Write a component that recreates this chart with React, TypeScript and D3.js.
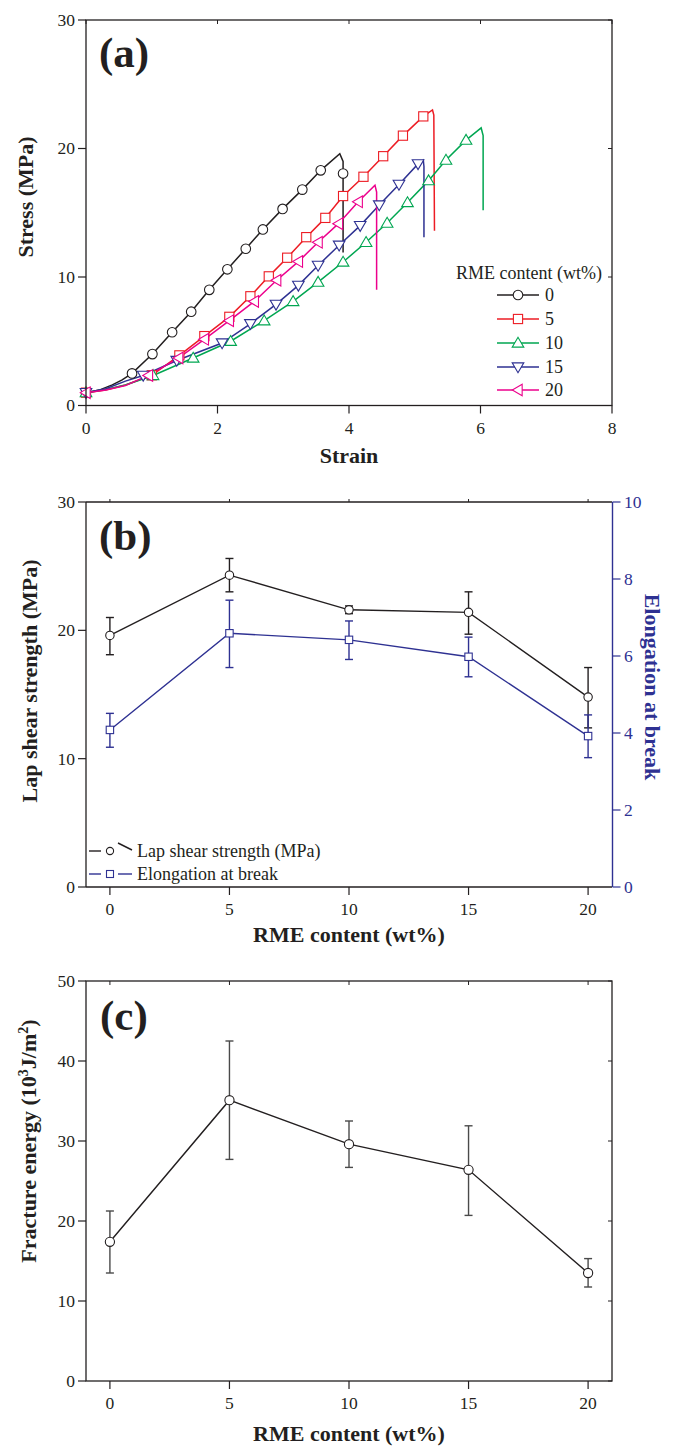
import React from "react";
import * as d3 from "d3";

// ---------- Panel (a): stress-strain curves ----------
const rmeLevels = ["0", "5", "10", "15", "20"];
const seriesColors = ["#231f20", "#ed1c24", "#00a651", "#2e3192", "#ec008c"];
const seriesShapes = ["circle", "square", "triUp", "triDown", "triLeft"];

// line points [strain, stress]
const curve0: [number, number][] = [[0, 1.0], [0.2, 1.2], [0.4, 1.6], [0.55, 2.0], [0.7, 2.5], [1.01, 4.0], [1.31, 5.7], [1.6, 7.3], [1.875, 9.0], [2.15, 10.6], [2.43, 12.2], [2.69, 13.7], [2.99, 15.3], [3.29, 16.8], [3.57, 18.3], [3.86, 19.6], [3.91, 19.0], [3.91, 11.9]];
const curve5: [number, number][] = [[0, 1.0], [0.3, 1.2], [0.6, 1.6], [1.0, 2.35], [1.42, 3.9], [1.8, 5.4], [2.18, 6.9], [2.5, 8.5], [2.78, 10.05], [3.06, 11.5], [3.35, 13.1], [3.64, 14.6], [3.91, 16.3], [4.22, 17.8], [4.52, 19.4], [4.82, 21.0], [5.13, 22.5], [5.27, 23.0], [5.29, 22.6], [5.3, 13.6]];
const curve10: [number, number][] = [[0, 1.0], [0.3, 1.25], [0.6, 1.6], [1.02, 2.34], [1.63, 3.7], [2.2, 5.0], [2.71, 6.6], [3.15, 8.1], [3.53, 9.6], [3.91, 11.17], [4.26, 12.7], [4.58, 14.2], [4.89, 15.8], [5.21, 17.5], [5.475, 19.1], [5.78, 20.65], [6.01, 21.6], [6.04, 21.0], [6.04, 15.2]];
const curve15: [number, number][] = [[0, 1.0], [0.3, 1.3], [0.6, 1.9], [0.87, 2.34], [1.38, 3.5], [2.07, 4.86], [2.5, 6.36], [2.89, 7.87], [3.23, 9.35], [3.53, 10.9], [3.85, 12.47], [4.17, 14.0], [4.46, 15.6], [4.76, 17.2], [5.05, 18.8], [5.13, 19.1], [5.14, 18.6], [5.14, 13.1]];
const curve20: [number, number][] = [[0, 1.0], [0.3, 1.2], [0.6, 1.55], [0.95, 2.34], [1.41, 3.7], [1.8, 5.15], [2.18, 6.6], [2.56, 8.1], [2.9, 9.75], [3.23, 11.2], [3.53, 12.7], [3.84, 14.15], [4.14, 15.85], [4.395, 17.15], [4.42, 16.6], [4.42, 9.0]];

// marker points [strain, stress]
const marks0: [number, number][] = [[0.7, 2.5], [1.01, 4.0], [1.31, 5.7], [1.6, 7.3], [1.875, 9.0], [2.15, 10.6], [2.43, 12.2], [2.69, 13.7], [2.99, 15.3], [3.29, 16.8], [3.57, 18.3], [3.91, 18.05]];
const marks5: [number, number][] = [[0, 1.0], [1.0, 2.35], [1.42, 3.9], [1.8, 5.4], [2.18, 6.9], [2.5, 8.5], [2.78, 10.05], [3.06, 11.5], [3.35, 13.1], [3.64, 14.6], [3.91, 16.3], [4.22, 17.8], [4.52, 19.4], [4.82, 21.0], [5.13, 22.5]];
const marks10: [number, number][] = [[0, 1.0], [1.02, 2.34], [1.63, 3.7], [2.2, 5.0], [2.71, 6.6], [3.15, 8.1], [3.53, 9.6], [3.91, 11.17], [4.26, 12.7], [4.58, 14.2], [4.89, 15.8], [5.21, 17.5], [5.475, 19.1], [5.78, 20.65]];
const marks15: [number, number][] = [[0, 1.0], [0.87, 2.34], [1.38, 3.5], [2.07, 4.86], [2.5, 6.36], [2.89, 7.87], [3.23, 9.35], [3.53, 10.9], [3.85, 12.47], [4.17, 14.0], [4.46, 15.6], [4.76, 17.2], [5.05, 18.8]];
const marks20: [number, number][] = [[0, 1.0], [0.95, 2.34], [1.41, 3.7], [1.8, 5.15], [2.18, 6.6], [2.56, 8.1], [2.9, 9.75], [3.23, 11.2], [3.53, 12.7], [3.84, 14.15], [4.14, 15.85]];

const curves = [curve0, curve5, curve10, curve15, curve20];
const marks = [marks0, marks5, marks10, marks15, marks20];

const strainTicks = [0, 2, 4, 6, 8];
const stressTicks = [0, 10, 20, 30];

// ---------- Panel (b) ----------
const rmeContent = [0, 5, 10, 15, 20];
const lapShear = [19.6, 24.3, 21.6, 21.4, 14.8];
const lapShearHi = [21.0, 25.6, 21.9, 23.0, 17.1];
const lapShearLo = [18.1, 23.0, 21.3, 19.7, 12.4];
const elongation = [4.08, 6.59, 6.42, 5.98, 3.92];
const elongationHi = [4.51, 7.45, 6.91, 6.49, 4.47];
const elongationLo = [3.63, 5.70, 5.91, 5.46, 3.36];
const rmeTicks = [0, 5, 10, 15, 20];
const lapTicks = [0, 10, 20, 30];
const elongTicks = [0, 2, 4, 6, 8, 10];

// ---------- Panel (c) ----------
const fracture = [17.4, 35.1, 29.6, 26.4, 13.5];
const fractureHi = [21.25, 42.5, 32.5, 31.9, 15.3];
const fractureLo = [13.5, 27.7, 26.7, 20.7, 11.75];
const fractureTicks = [0, 10, 20, 30, 40, 50];

const FONT = "'Liberation Serif', 'Times New Roman', serif";
const INK = "#231f20";
const BLUE = "#2e3192";

function Marker({ shape, x, y, color, s = 1 }: { shape: string; x: number; y: number; color: string; s?: number }) {
  const common = { fill: "#fff", stroke: color, strokeWidth: 1.1 };
  if (shape === "circle") return <circle cx={x} cy={y} r={4.8 * s} {...common} />;
  if (shape === "square") return <rect x={x - 4.6 * s} y={y - 4.6 * s} width={9.2 * s} height={9.2 * s} {...common} />;
  const w = 5.8 * s, h = 5.2 * s;
  let pts = "";
  if (shape === "triUp") pts = `${x - w},${y + h * 0.8} ${x + w},${y + h * 0.8} ${x},${y - h * 1.1}`;
  if (shape === "triDown") pts = `${x - w},${y - h * 0.8} ${x + w},${y - h * 0.8} ${x},${y + h * 1.1}`;
  if (shape === "triLeft") pts = `${x + h * 0.8},${y - w} ${x + h * 0.8},${y + w} ${x - h * 1.1},${y}`;
  return <polygon points={pts} {...common} />;
}

function Frame({ x, y, color = INK }: { x: d3.ScaleLinear<number, number>; y: d3.ScaleLinear<number, number>; color?: string }) {
  const [x0, x1] = x.range();
  const [y0, y1] = y.range();
  return <rect x={x0} y={y1} width={x1 - x0} height={y0 - y1} fill="none" stroke={color} strokeWidth={1.3} />;
}

export default function App() {
  // scales
  const xA = d3.scaleLinear().domain([0, 8]).range([86, 612]);
  const yA = d3.scaleLinear().domain([0, 30]).range([405.5, 20]);
  const xB = d3.scaleLinear().domain([-1, 21]).range([86, 612]);
  const yBL = d3.scaleLinear().domain([0, 30]).range([887, 502]);
  const yBR = d3.scaleLinear().domain([0, 10]).range([887, 502]);
  const xC = d3.scaleLinear().domain([-1, 21]).range([86, 612]);
  const yC = d3.scaleLinear().domain([0, 50]).range([1381, 981]);

  const lineA = d3.line<[number, number]>().x((d) => xA(d[0])).y((d) => yA(d[1]));
  const lineBL = d3.line<number>().x((_, i) => xB(rmeContent[i])).y((d) => yBL(d));
  const lineBR = d3.line<number>().x((_, i) => xB(rmeContent[i])).y((d) => yBR(d));
  const lineC = d3.line<number>().x((_, i) => xC(rmeContent[i])).y((d) => yC(d));

  const tickFont = { fontFamily: FONT, fontSize: 17.5, fill: INK };
  const titleFont = { fontFamily: FONT, fontSize: 22, fontWeight: 700 as const, fill: INK };
  const panelFont = { fontFamily: FONT, fontSize: 43, fontWeight: 700 as const, fill: INK };

  const xAxisBottom = (x: d3.ScaleLinear<number, number>, y0: number, ticks: number[], labY: number, topY: number, topLen: number) => (
    <g>
      {ticks.map((t) => (
        <g key={t}>
          <line x1={x(t)} x2={x(t)} y1={y0} y2={y0 + 8} stroke={INK} strokeWidth={1.2} />
          <line x1={x(t)} x2={x(t)} y1={topY} y2={topY + topLen} stroke={INK} strokeWidth={1} />
          <text x={x(t)} y={labY} textAnchor="middle" {...tickFont}>{t}</text>
        </g>
      ))}
    </g>
  );
  const yAxisLeft = (y: d3.ScaleLinear<number, number>, x0: number, ticks: number[], rightX: number) => (
    <g>
      {ticks.map((t) => (
        <g key={t}>
          <line x1={x0 - 8} x2={x0} y1={y(t)} y2={y(t)} stroke={INK} strokeWidth={1.2} />
          {rightX > 0 && <line x1={rightX - 4} x2={rightX} y1={y(t)} y2={y(t)} stroke={INK} strokeWidth={1} />}
          <text x={x0 - 11} y={y(t)} dy="0.34em" textAnchor="end" {...tickFont}>{t}</text>
        </g>
      ))}
    </g>
  );

  const errBar = (x: number, yHi: number, yLo: number, color: string, key: string) => (
    <g key={key} stroke={color} strokeWidth={1.4}>
      <line x1={x} x2={x} y1={yHi} y2={yLo} />
      <line x1={x - 4} x2={x + 4} y1={yHi} y2={yHi} />
      <line x1={x - 4} x2={x + 4} y1={yLo} y2={yLo} />
    </g>
  );

  const legendRowsY = [295, 319, 343, 367, 390];

  return (
    <div style={{ position: "absolute", left: 0, top: 0 }}>
      <svg width={675} height={1449} style={{ display: "block", background: "#fff" }}>
        {/* ================= Panel (a) ================= */}
        <g>
          {curves.map((c, i) => (
            <path key={i} d={lineA(c) || ""} fill="none" stroke={seriesColors[i]} strokeWidth={1.5} />
          ))}
          {marks.map((m, i) =>
            m.map((p, j) => <Marker key={`${i}-${j}`} shape={seriesShapes[i]} x={xA(p[0])} y={yA(p[1])} color={seriesColors[i]} />)
          )}
          <Frame x={xA} y={yA} />
          {xAxisBottom(xA, 405.5, strainTicks, 434, 20, 4)}
          {yAxisLeft(yA, 86, stressTicks, 612)}
          <text x={99} y={67} {...panelFont}>(a)</text>
          <text x={349} y={463} textAnchor="middle" {...titleFont}>Strain</text>
          <text transform="translate(33,197) rotate(-90)" textAnchor="middle" {...titleFont}>Stress (MPa)</text>
          {/* legend */}
          <text x={456} y={279} fontFamily={FONT} fontSize={18} fill={INK}>RME content (wt%)</text>
          {rmeLevels.map((lv, i) => (
            <g key={lv}>
              <line x1={497} x2={539} y1={legendRowsY[i]} y2={legendRowsY[i]} stroke={seriesColors[i]} strokeWidth={1.5} />
              <Marker shape={seriesShapes[i]} x={518} y={legendRowsY[i]} color={seriesColors[i]} />
              <text x={545} y={legendRowsY[i] + 6} fontFamily={FONT} fontSize={18} fill={INK}>{lv}</text>
            </g>
          ))}
        </g>

        {/* ================= Panel (b) ================= */}
        <g>
          <path d={lineBL(lapShear) || ""} fill="none" stroke={INK} strokeWidth={1.4} />
          <path d={lineBR(elongation) || ""} fill="none" stroke={BLUE} strokeWidth={1.4} />
          {rmeContent.map((r, i) => errBar(xB(r), yBL(lapShearHi[i]), yBL(lapShearLo[i]), INK, `bl${i}`))}
          {rmeContent.map((r, i) => errBar(xB(r), yBR(elongationHi[i]), yBR(elongationLo[i]), BLUE, `br${i}`))}
          {rmeContent.map((r, i) => (
            <circle key={`c${i}`} cx={xB(r)} cy={yBL(lapShear[i])} r={4.2} fill="#fff" stroke={INK} strokeWidth={1.1} />
          ))}
          {rmeContent.map((r, i) => (
            <rect key={`s${i}`} x={xB(r) - 3.7} y={yBR(elongation[i]) - 3.7} width={7.4} height={7.4} fill="#fff" stroke={BLUE} strokeWidth={1.1} />
          ))}
          {/* frame: left, top, bottom black; right blue */}
          <line x1={86} x2={612} y1={502} y2={502} stroke={INK} strokeWidth={1.3} />
          <line x1={86} x2={612} y1={887} y2={887} stroke={INK} strokeWidth={1.3} />
          <line x1={86} x2={86} y1={502} y2={887} stroke={INK} strokeWidth={1.3} />
          <line x1={612.5} x2={612.5} y1={502} y2={887} stroke={BLUE} strokeWidth={1.4} />
          {xAxisBottom(xB, 887, rmeTicks, 915, 502, -3)}
          {yAxisLeft(yBL, 86, lapTicks, 0)}
          {elongTicks.map((t) => (
            <g key={t}>
              <line x1={612.5} x2={620.5} y1={yBR(t)} y2={yBR(t)} stroke={BLUE} strokeWidth={1.2} />
              <text x={624} y={yBR(t)} dy="0.34em" fontFamily={FONT} fontSize={17.5} fill={BLUE}>{t}</text>
            </g>
          ))}
          <text x={99} y={550} {...panelFont}>(b)</text>
          <text x={349} y={942} textAnchor="middle" {...titleFont}>RME content (wt%)</text>
          <text transform="translate(37,681) rotate(-90)" textAnchor="middle" {...titleFont}>Lap shear strength (MPa)</text>
          <text transform="translate(645,687) rotate(90)" textAnchor="middle" {...titleFont} fill={BLUE}>Elongation at break</text>
          {/* legend */}
          <line x1={89} x2={101} y1={851} y2={851} stroke={INK} strokeWidth={1.4} />
          <circle cx={110} cy={851} r={3.6} fill="#fff" stroke={INK} strokeWidth={1.1} />
          <line x1={118} x2={132} y1={843} y2={850} stroke={INK} strokeWidth={1.4} />
          <text x={137} y={857} fontFamily={FONT} fontSize={18} fill={INK}>Lap shear strength (MPa)</text>
          <line x1={89} x2={101} y1={874} y2={874} stroke={BLUE} strokeWidth={1.4} />
          <rect x={106.5} y={870.5} width={7} height={7} fill="#fff" stroke={BLUE} strokeWidth={1.1} />
          <line x1={118} x2={132} y1={874} y2={874} stroke={BLUE} strokeWidth={1.4} />
          <text x={137} y={880} fontFamily={FONT} fontSize={18} fill={INK}>Elongation at break</text>
        </g>

        {/* ================= Panel (c) ================= */}
        <g>
          <path d={lineC(fracture) || ""} fill="none" stroke={INK} strokeWidth={1.4} />
          {rmeContent.map((r, i) => errBar(xC(r), yC(fractureHi[i]), yC(fractureLo[i]), "#4a4a4a", `c${i}`))}
          {rmeContent.map((r, i) => (
            <circle key={`fc${i}`} cx={xC(r)} cy={yC(fracture[i])} r={4.6} fill="#fff" stroke={INK} strokeWidth={1.1} />
          ))}
          <Frame x={xC} y={yC} />
          {xAxisBottom(xC, 1381, rmeTicks, 1409, 981, 4)}
          {yAxisLeft(yC, 86, fractureTicks, 612)}
          <text x={100} y={1030} {...panelFont}>(c)</text>
          <text x={349} y={1441} textAnchor="middle" {...titleFont}>RME content (wt%)</text>
          <text transform="translate(36,1141) rotate(-90)" textAnchor="middle" {...titleFont}>
            Fracture energy (10<tspan fontSize={14} dy={-8}>3</tspan><tspan dy={8}>J/m</tspan><tspan fontSize={14} dy={-8}>2</tspan><tspan dy={8}>)</tspan>
          </text>
        </g>
      </svg>
    </div>
  );
}
